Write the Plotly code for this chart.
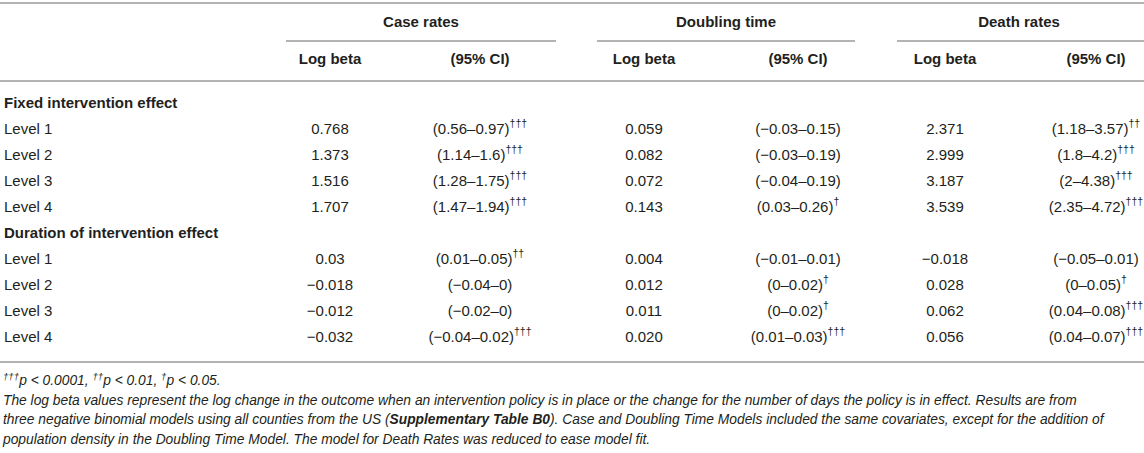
import plotly.graph_objects as go

# table content
groups = ["Case rates", "Doubling time", "Death rates"]
sub_headers = ["Log beta", "(95% CI)"]
sections = ["Fixed intervention effect", "Duration of intervention effect"]
levels = ["Level 1", "Level 2", "Level 3", "Level 4"]

case_beta = ["0.768", "1.373", "1.516", "1.707", "0.03", "−0.018", "−0.012", "−0.032"]
case_ci = ["(0.56–0.97)", "(1.14–1.6)", "(1.28–1.75)", "(1.47–1.94)",
           "(0.01–0.05)", "(−0.04–0)", "(−0.02–0)", "(−0.04–0.02)"]
case_sig = ["†††", "†††", "†††", "†††", "††", "", "", "†††"]

dbl_beta = ["0.059", "0.082", "0.072", "0.143", "0.004", "0.012", "0.011", "0.020"]
dbl_ci = ["(−0.03–0.15)", "(−0.03–0.19)", "(−0.04–0.19)", "(0.03–0.26)",
          "(−0.01–0.01)", "(0–0.02)", "(0–0.02)", "(0.01–0.03)"]
dbl_sig = ["", "", "", "†", "", "†", "†", "†††"]

death_beta = ["2.371", "2.999", "3.187", "3.539", "−0.018", "0.028", "0.062", "0.056"]
death_ci = ["(1.18–3.57)", "(1.8–4.2)", "(2–4.38)", "(2.35–4.72)",
            "(−0.05–0.01)", "(0–0.05)", "(0.04–0.08)", "(0.04–0.07)"]
death_sig = ["††", "†††", "†††", "†††", "", "†", "†††", "†††"]

sig_note = ("<sup>†††</sup><i>p</i> &lt; 0.0001, <sup>††</sup><i>p</i> &lt; 0.01, "
            "<sup>†</sup><i>p</i> &lt; 0.05.")
note_lines = [
    "The log beta values represent the log change in the outcome when an intervention policy is in place "
    "or the change for the number of days the policy is in effect. Results are from",
    "three negative binomial models using all counties from the US (<b>Supplementary Table B0</b>). "
    "Case and Doubling Time Models included the same covariates, except for the addition of",
    "population density in the Doubling Time Model. The model for Death Rates was reduced to ease model fit.",
]

# layout (pixels)
W, H = 1144, 453
FONT = "Liberation Sans, Arial, sans-serif"
TXT = "#231f20"
RULE = "#b3b3b3"
BODY = 15
FOOT = 13.8
group_x = [421, 726, 1019]
group_span = [(286, 556), (597, 855), (897, 1144)]
col_x = [330, 480, 644, 798, 945, 1096]
y_group, y_sub = 23, 60
y_body0, dy = 104, 26
foot_y0, foot_dy = 382, 19.5

# body rows: section header then the four levels, twice
labels = []
for s in sections:
    labels.append("<b>" + s + "</b>")
    labels.extend(levels)
row_y = [y_body0 + dy * i for i in range(len(labels))]
data_y = [y for i, y in enumerate(row_y) if i % 5 != 0]


def sup(vals, sigs):
    return [v + ("<sup>" + s + "</sup>" if s else "") for v, s in zip(vals, sigs)]


columns = [case_beta, sup(case_ci, case_sig), dbl_beta, sup(dbl_ci, dbl_sig),
           death_beta, sup(death_ci, death_sig)]

fig = go.Figure()


def add_text(xs, ys, texts, pos="middle center", bold=False, italic=False, size=BODY):
    fig.add_trace(go.Scatter(
        x=xs, y=ys, text=texts, mode="text", textposition=pos,
        textfont=dict(family=FONT, size=size, color=TXT,
                      weight="bold" if bold else "normal",
                      style="italic" if italic else "normal"),
        hoverinfo="skip", showlegend=False, cliponaxis=False))


# group headers and sub headers
add_text(group_x, [y_group] * 3, groups, bold=True)
add_text(col_x, [y_sub] * 6, sub_headers * 3, bold=True)

# first column
add_text([4] * len(labels), row_y, labels, pos="middle right")

# data columns
for cx, vals in zip(col_x, columns):
    add_text([cx] * len(vals), data_y, vals)

# footnotes
foot = [sig_note] + note_lines
add_text([3] * len(foot), [foot_y0 + foot_dy * i for i in range(len(foot))], foot,
         pos="middle right", italic=True, size=FOOT)

# rules
shapes = [
    dict(type="line", x0=0, x1=W, y0=3, y1=3),
    dict(type="line", x0=0, x1=W, y0=81, y1=81),
    dict(type="line", x0=0, x1=W, y0=362, y1=362),
]
for a, b in group_span:
    shapes.append(dict(type="line", x0=a, x1=b, y0=41, y1=41))
for s in shapes:
    s.update(xref="x", yref="y", line=dict(color=RULE, width=2))

fig.update_layout(
    width=W, height=H, margin=dict(l=0, r=0, t=0, b=0),
    paper_bgcolor="white", plot_bgcolor="white",
    xaxis=dict(range=[0, W], visible=False, fixedrange=True),
    yaxis=dict(range=[H, 0], visible=False, fixedrange=True),
    shapes=shapes,
)

fig.write_html("out.html", config={"displayModeBar": False},
               post_script="document.body.style.margin='0px';")
